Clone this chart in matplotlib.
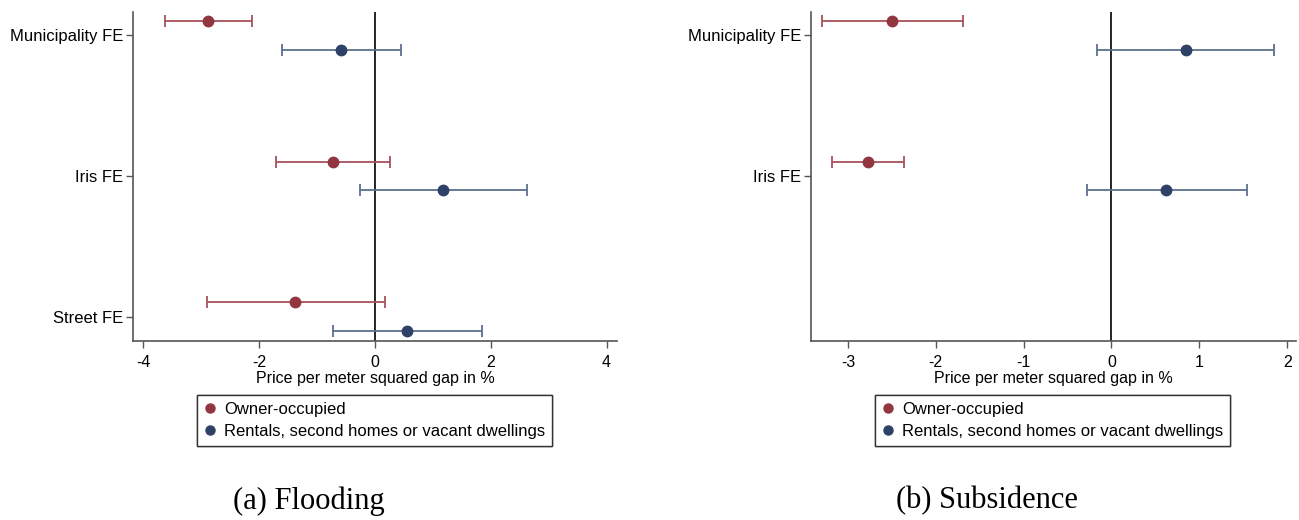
import matplotlib.pyplot as plt
from matplotlib.lines import Line2D

plt.rcParams['font.family'] = ['Liberation Sans', 'DejaVu Sans']

# Flooding panel
flood_labels = ["Municipality FE", "Iris FE", "Street FE"]
flood_owner = [-2.88, -0.73, -1.38]
flood_owner_lo = [-3.62, -1.71, -2.91]
flood_owner_hi = [-2.13, 0.26, 0.17]
flood_rent = [-0.59, 1.18, 0.55]
flood_rent_lo = [-1.61, -0.26, -0.73]
flood_rent_hi = [0.45, 2.62, 1.84]

# Subsidence panel
subs_labels = ["Municipality FE", "Iris FE"]
subs_owner = [-2.50, -2.77]
subs_owner_lo = [-3.30, -3.18]
subs_owner_hi = [-1.69, -2.36]
subs_rent = [0.85, 0.62]
subs_rent_lo = [-0.16, -0.28]
subs_rent_hi = [1.85, 1.54]

series_names = ["Owner-occupied", "Rentals, second homes or vacant dwellings"]
captions = ["(a) Flooding", "(b) Subsidence"]

red = "#923640"
navy = "#2e4167"
red_line = "#a8525a"
navy_line = "#5d6f8e"


def draw_panel(ax, labels, own, own_lo, own_hi, rent, rent_lo, rent_hi, xticks, xlim):
    pos = list(range(1, len(labels) + 1))
    off = 0.103
    for vals, lo, hi, sign, c, cl in [(own, own_lo, own_hi, -1, red, red_line),
                                      (rent, rent_lo, rent_hi, 1, navy, navy_line)]:
        ys = [p + sign * off for p in pos]
        err = [[v - l for v, l in zip(vals, lo)], [h - v for v, h in zip(vals, hi)]]
        ax.errorbar(vals, ys, xerr=err, fmt='none', ecolor=cl, elinewidth=1.3,
                    capsize=4, capthick=1.3, zorder=2)
        ax.plot(vals, ys, 'o', color=c, markersize=7.5, zorder=3)
    ax.axvline(0, color='black', linewidth=1.2, zorder=1)
    ax.set_ylim(3.174, 0.833)
    ax.set_xlim(*xlim)
    ax.set_yticks(pos)
    ax.set_yticklabels(labels, fontsize=12)
    ax.set_xticks(xticks)
    ax.set_xticklabels([str(t) for t in xticks], fontsize=11.5)
    ax.set_xlabel("Price per meter squared gap in %", fontsize=11.5, labelpad=1)
    for s in ['top', 'right']:
        ax.spines[s].set_visible(False)
    for s in ['left', 'bottom']:
        ax.spines[s].set_color('#555555')
        ax.spines[s].set_linewidth(1.2)
    ax.tick_params(axis='both', length=5, width=1, color='#555555', pad=2)
    ax.tick_params(axis='x', pad=5)


fig = plt.figure(figsize=(12.99, 5.20), dpi=100)
ax1 = fig.add_axes([133 / 1299, 1 - 341 / 520, 484 / 1299, 329 / 520])
ax2 = fig.add_axes([811 / 1299, 1 - 341 / 520, 485 / 1299, 329 / 520])

draw_panel(ax1, flood_labels, flood_owner, flood_owner_lo, flood_owner_hi,
           flood_rent, flood_rent_lo, flood_rent_hi, [-4, -2, 0, 2, 4], (-4.18, 4.18))
draw_panel(ax2, subs_labels, subs_owner, subs_owner_lo, subs_owner_hi,
           subs_rent, subs_rent_lo, subs_rent_hi, [-3, -2, -1, 0, 1, 2], (-3.42, 2.1))

handles = [Line2D([], [], linestyle='none', marker='o', color=red, markersize=6.5),
           Line2D([], [], linestyle='none', marker='o', color=navy, markersize=6.5)]

for x0, cap_x, cap in [(197, 309, captions[0]), (875, 987, captions[1])]:
    leg = fig.legend(handles, series_names, loc='upper left',
                     bbox_to_anchor=(x0 / 1299, 1 - 395 / 520), fontsize=12,
                     frameon=True, fancybox=False, edgecolor='#333333', framealpha=1,
                     handlelength=0.8, handletextpad=0.45, borderpad=0.4,
                     labelspacing=0.45, borderaxespad=0)
    leg.get_frame().set_linewidth(1.0)
    fig.add_artist(leg)
    fig.text(cap_x / 1299, 1 - 501 / 520, cap, ha='center', va='center',
             fontsize=22, family=['Liberation Serif', 'DejaVu Serif'])

fig.savefig("out.png", dpi=100)
